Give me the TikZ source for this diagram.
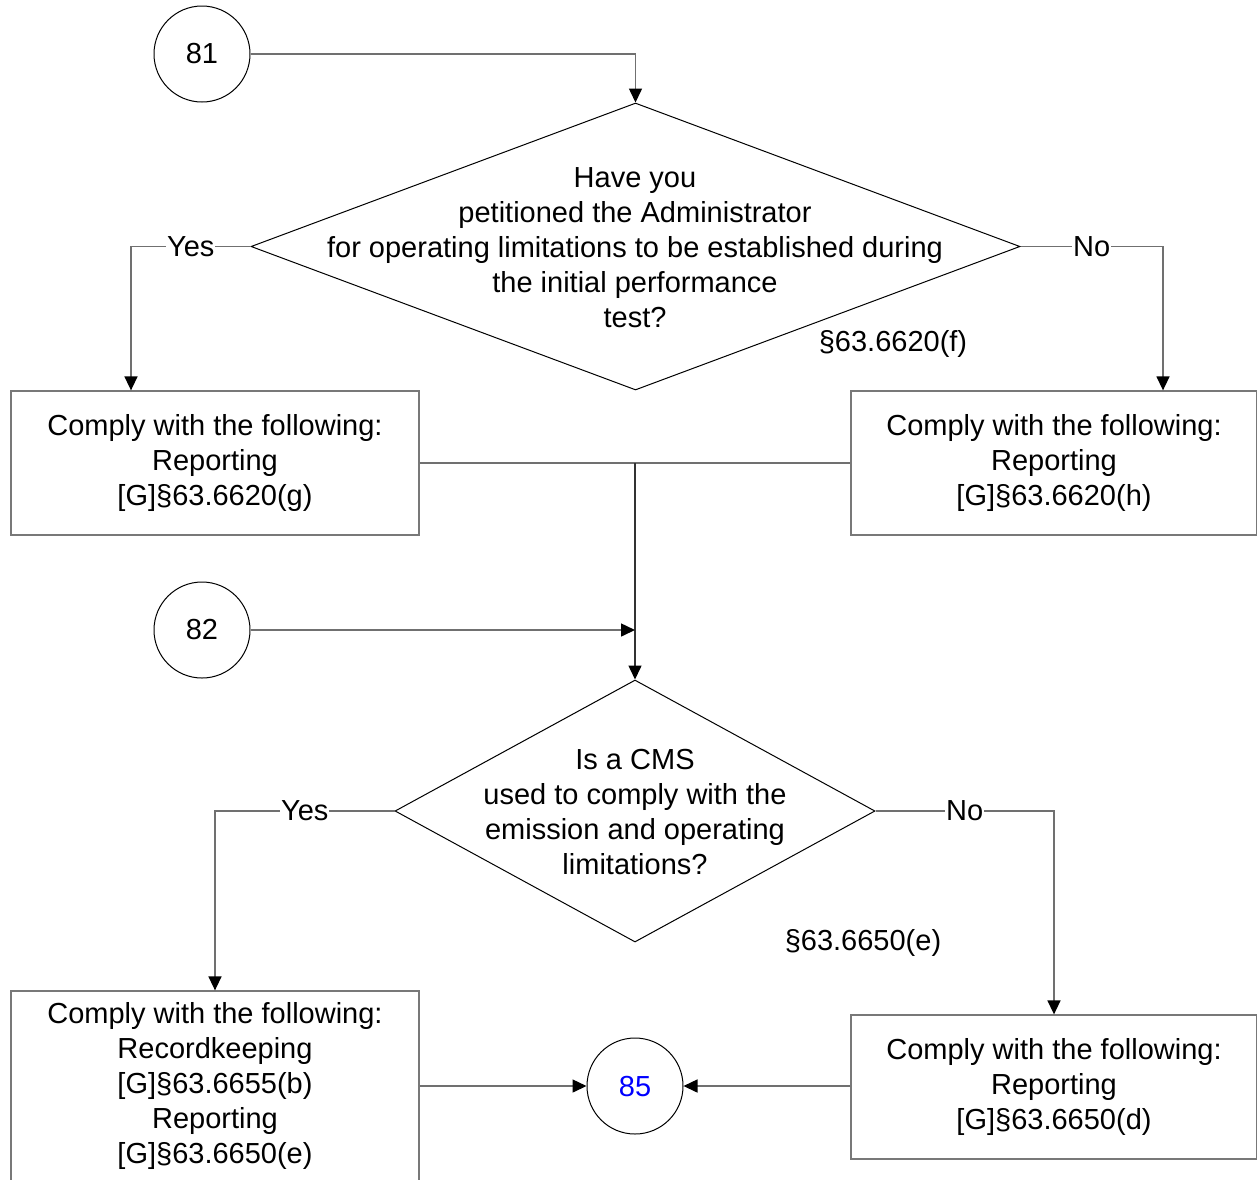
\documentclass[tikz,border=0pt]{standalone}
\usepackage{fontspec}
\setmainfont{Liberation Sans}
\usetikzlibrary{shapes.geometric,arrows.meta}
\definecolor{conn}{RGB}{112,112,112}
\definecolor{boxc}{RGB}{120,120,120}
\begin{document}
\begin{tikzpicture}[x=1pt,y=-1pt,
  every node/.style={font=\fontsize{29}{35}\selectfont},
  circ/.style={circle,draw=black,line width=1pt,minimum size=96pt,inner sep=0pt},
  dia/.style={diamond,draw=black,line width=1pt,inner sep=0pt},
  rbox/.style={rectangle,draw=boxc,line width=1.3pt,inner sep=0pt,align=center},
  conline/.style={draw=conn,line width=1.5pt},
  arr/.style={conline,-{Triangle[length=14pt,width=13pt,black]}},
  lbl/.style={fill=white,inner sep=1pt}]
\clip (0,0) rectangle (1257,1179);
\fill[white] (0,0) rectangle (1257,1179);
% shapes
\node[circ] (c81) at (202,54) {81};
\node[dia,minimum width=769pt,minimum height=287pt] (d1) at (635.5,246.5) {};
\node[align=center] at (635,247.5) {Have you\\petitioned the Administrator\\for operating limitations to be established during\\the initial performance\\test?};
\node at (893,344) {§63.6620(f)};
\node[rbox,minimum width=408pt,minimum height=144pt] (b1) at (215,463) {Comply with the following:\\Reporting\\{[G]}§63.6620(g)};
\node[rbox,minimum width=406pt,minimum height=144pt] (b2) at (1054,463) {Comply with the following:\\Reporting\\{[G]}§63.6620(h)};
\node[circ] (c82) at (202,630) {82};
\node[dia,minimum width=480pt,minimum height=262pt] (d2) at (635,811) {};
\node[align=center] at (635,811.5) {Is a CMS\\used to comply with the\\emission and operating\\limitations?};
\node at (863,943) {§63.6650(e)};
\node[rbox,minimum width=408pt,minimum height=190pt] (b3) at (215,1086) {Comply with the following:\\Recordkeeping\\{[G]}§63.6655(b)\\Reporting\\{[G]}§63.6650(e)};
\node[rbox,minimum width=406pt,minimum height=144pt] (b4) at (1054,1087) {Comply with the following:\\Reporting\\{[G]}§63.6650(d)};
\node[circ,text={rgb,255:red,0;green,0;blue,255}] (c85) at (635,1086) {85};
\coordinate (j) at (635,463);
\coordinate (m) at (635,630);
% connectors
\draw[arr] (c81.east) -| (d1.north);
\draw[arr] (d1.west) -| node[pos=0.25,lbl] {Yes} ([xshift=-84pt]b1.north);
\draw[arr] (d1.east) -| node[pos=0.25,lbl] {No} ([xshift=109pt]b2.north);
\draw[conline] (b1.east) -- (b2.west);
\draw[arr,draw=black!80] (j) -- (d2.north);
\draw[arr] (c82.east) -- (m);
\draw[arr] (d2.west) -| node[pos=0.25,lbl] {Yes} (b3.north);
\draw[arr] (d2.east) -| node[pos=0.25,lbl] {No} (b4.north);
\draw[arr] (b3.east) -- (c85.west);
\draw[arr] (b4.west |- c85.east) -- (c85.east);
\end{tikzpicture}
\end{document}
